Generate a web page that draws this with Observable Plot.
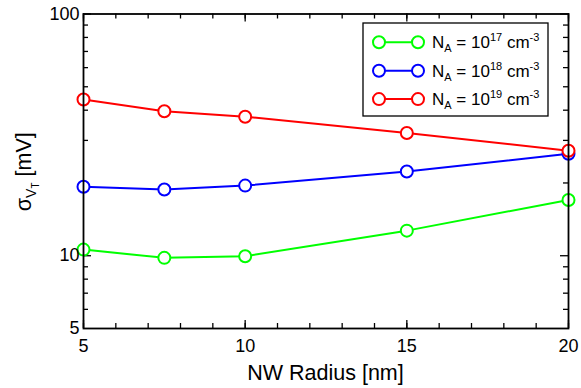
<!DOCTYPE html>
<html>
<head>
<meta charset="utf-8">
<script src="https://cdn.jsdelivr.net/npm/d3@7"></script>
<script src="https://cdn.jsdelivr.net/npm/@observablehq/plot@0.6"></script>
<style>
  body { margin: 0; background: #fff; }
  svg { font-family: "Liberation Sans", Arial, Helvetica, sans-serif; }
</style>
</head>
<body>
<div id="chart"></div>
<script>
// Threshold-voltage variability vs. nanowire radius for three doping levels
const radius = [5, 7.5, 10, 15, 20];
const sigmaNA17 = [10.6, 9.8, 9.95, 12.7, 17.0];
const sigmaNA18 = [19.3, 18.8, 19.5, 22.3, 26.4];
const sigmaNA19 = [44.3, 39.6, 37.6, 32.2, 27.2];
const dopingExponents = ["17", "18", "19"];
const seriesColors = ["#00ff00", "#0000ff", "#ff0000"];

const xTickLabels = [5, 10, 15, 20];
const xMinorTicks = d3.range(5, 21, 1);
const yTickLabels = [5, 10, 100];
const yMinorTicks = [6, 7, 8, 9, 20, 30, 40, 50, 60, 70, 80, 90];
const yMajorTicks = [10, 100];

const series = [sigmaNA17, sigmaNA18, sigmaNA19].map((vals, i) =>
  radius.map((r, j) => ({ r, sigma: vals[j], doping: dopingExponents[i] }))
);

const W = 581, H = 388;
const mL = 83, mR = 13, mT = 13.5, mB = 60;
const innerW = W - mL - mR, innerH = H - mT - mB;
const minorLen = 5, majorLen = 8;
const tickStyle = { stroke: "#000", strokeWidth: 1.3 };

const marks = [
  // tick marks drawn inward on all four sides
  Plot.tickX(xMinorTicks, { x: d => d, insetTop: innerH - minorLen, ...tickStyle }),
  Plot.tickX(xMinorTicks, { x: d => d, insetBottom: innerH - minorLen, ...tickStyle }),
  Plot.tickX(xTickLabels, { x: d => d, insetTop: innerH - majorLen, ...tickStyle }),
  Plot.tickX(xTickLabels, { x: d => d, insetBottom: innerH - majorLen, ...tickStyle }),
  Plot.tickY(yMinorTicks, { y: d => d, insetRight: innerW - minorLen, ...tickStyle }),
  Plot.tickY(yMinorTicks, { y: d => d, insetLeft: innerW - minorLen, ...tickStyle }),
  Plot.tickY(yMajorTicks, { y: d => d, insetRight: innerW - majorLen, ...tickStyle }),
  Plot.tickY(yMajorTicks, { y: d => d, insetLeft: innerW - majorLen, ...tickStyle })
];
// series: line then markers, in order so later series sit on top
series.forEach((data, i) => {
  marks.push(
    Plot.line(data, { x: "r", y: "sigma", stroke: seriesColors[i], strokeWidth: 2 }),
    Plot.dot(data, { x: "r", y: "sigma", r: 6, stroke: seriesColors[i], strokeWidth: 2, fill: "#fff" })
  );
});
marks.push(
  Plot.frame({ stroke: "#000", strokeWidth: 1.8 }),
  Plot.axisX(xTickLabels, { tickSize: 0, tickPadding: 11, fontSize: 18, label: null, tickFormat: d => String(d) }),
  Plot.axisY(yTickLabels, { tickSize: 0, tickPadding: 4, fontSize: 18, label: null, tickFormat: d => String(d) })
);

const chart = Plot.plot({
  width: W, height: H,
  marginLeft: mL, marginRight: mR, marginTop: mT, marginBottom: mB,
  style: { background: "#fff", color: "#000", fontSize: "18px", overflow: "visible" },
  x: { domain: [5, 20], axis: null },
  y: { type: "log", domain: [5, 100], axis: null },
  marks
});
document.getElementById("chart").append(chart);

const svg = d3.select(chart);

// x-axis title
svg.append("text")
  .attr("x", mL + innerW / 2).attr("y", 380)
  .attr("text-anchor", "middle").attr("font-size", 21.5).attr("fill", "#000")
  .text("NW Radius [nm]");

// y-axis title with nested subscripts
const yTitle = svg.append("text")
  .attr("transform", `translate(31,${mT + innerH / 2 + 1}) rotate(-90)`)
  .attr("text-anchor", "middle").attr("font-size", 21.5).attr("fill", "#000");
yTitle.append("tspan").text("σ");
yTitle.append("tspan").attr("font-size", 14).attr("dy", 5).text("V");
yTitle.append("tspan").attr("font-size", 10).attr("dy", 3).text("T");
yTitle.append("tspan").attr("dy", -8).text(" [mV]");

// legend
const lg = svg.append("g");
lg.append("rect").attr("x", 363).attr("y", 23).attr("width", 185).attr("height", 93)
  .attr("fill", "#fff").attr("stroke", "#000").attr("stroke-width", 1.3);
dopingExponents.forEach((e, i) => {
  const cy = 42.3 + i * 28.4;
  const row = lg.append("g");
  row.append("line").attr("x1", 379).attr("x2", 418).attr("y1", cy).attr("y2", cy)
    .attr("stroke", seriesColors[i]).attr("stroke-width", 2);
  [379, 418].forEach(cx => row.append("circle").attr("cx", cx).attr("cy", cy).attr("r", 6)
    .attr("fill", "#fff").attr("stroke", seriesColors[i]).attr("stroke-width", 2));
  const t = row.append("text").attr("x", 432).attr("y", cy + 6)
    .attr("text-anchor", "start").attr("font-size", 17).attr("fill", "#000");
  t.append("tspan").text("N");
  t.append("tspan").attr("font-size", 11).attr("dy", 4).text("A");
  t.append("tspan").attr("dy", -4).text(" = 10");
  t.append("tspan").attr("font-size", 11).attr("dy", -7).text(e);
  t.append("tspan").attr("dy", 7).text(" cm");
  t.append("tspan").attr("font-size", 11).attr("dy", -7).text("-3");
});
</script>
</body>
</html>
